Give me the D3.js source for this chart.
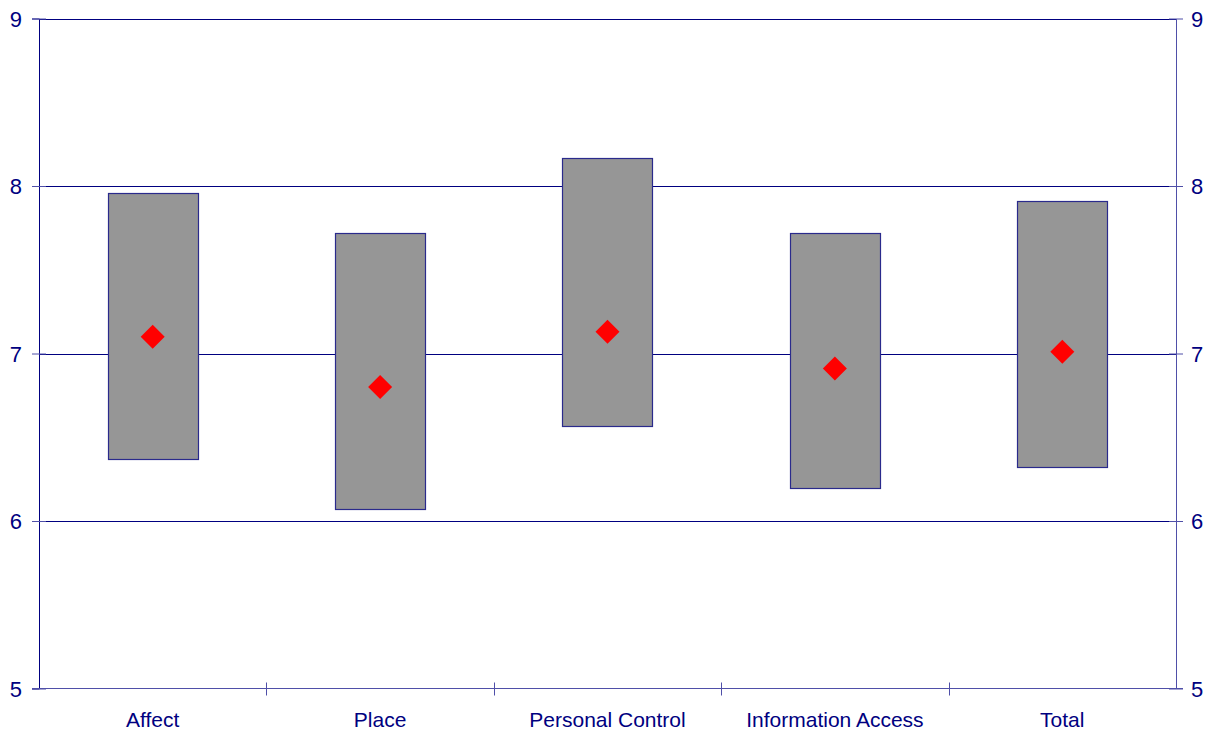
<!DOCTYPE html>
<html>
<head>
<meta charset="utf-8">
<script src="https://cdn.jsdelivr.net/npm/d3@7"></script>
<style>
  html, body { margin: 0; padding: 0; background: #fff; }
  svg { display: block; }
  text { font-family: "Liberation Sans", Arial, sans-serif; fill: #000080; }
</style>
</head>
<body>
<svg id="chart" width="1211" height="732"></svg>
<script>
// Score ranges per dimension: low / high ends of the box and the mean marker
const categories = ["Affect", "Place", "Personal Control", "Information Access", "Total"];
const lowValues  = [6.37, 6.07, 6.57, 6.20, 6.32];
const highValues = [7.96, 7.72, 8.17, 7.72, 7.91];
const meanValues = [7.10, 6.80, 7.13, 6.91, 7.01];
const yTicks = [5, 6, 7, 8, 9];

const svg = d3.select("#chart");
const margin = { left: 39, right: 1176, top: 18.5, bottom: 688.5 };
const navy = "#000080";
const axisBlue = "#4f4fa8";

const x = d3.scaleBand().domain(categories).range([margin.left, margin.right]).paddingInner(0).paddingOuter(0);
const y = d3.scaleLinear().domain([5, 9]).range([margin.bottom, margin.top]);

// Horizontal gridlines
svg.append("g").selectAll("line").data(yTicks.filter(d => d > 5)).join("line")
  .attr("x1", margin.left).attr("x2", margin.right + 1)
  .attr("y1", d => Math.round(y(d)) + 0.5).attr("y2", d => Math.round(y(d)) + 0.5)
  .attr("stroke", navy).attr("stroke-width", 1);

// Left axis
const leftAxis = d3.axisLeft(y).tickValues(yTicks).tickSize(7).tickPadding(10).tickFormat(d3.format("d"));
const gL = svg.append("g").attr("transform", `translate(${margin.left},0)`).call(leftAxis);
gL.select(".domain").attr("stroke", navy);
gL.selectAll(".tick line").attr("stroke", axisBlue).attr("x2", -7).attr("x1", 7);
gL.selectAll(".tick text").style("font-size", "22px").attr("fill", navy).attr("dy", "0.36em");

// Right axis
const rightAxis = d3.axisRight(y).tickValues(yTicks).tickSizeInner(7).tickSizeOuter(0).tickPadding(8).tickFormat(d3.format("d"));
const gR = svg.append("g").attr("transform", `translate(${margin.right},0)`).call(rightAxis);
gR.select(".domain").attr("stroke", axisBlue);
gR.selectAll(".tick line").attr("x1", -7).attr("stroke", axisBlue);
gR.selectAll(".tick text").style("font-size", "22px").attr("fill", navy).attr("dy", "0.36em");

// Bottom axis with ticks at category boundaries
svg.append("line")
  .attr("x1", margin.left - 7).attr("x2", margin.right + 7)
  .attr("y1", margin.bottom).attr("y2", margin.bottom)
  .attr("stroke", axisBlue);
const boundaries = categories.slice(1).map(c => x(c));
svg.append("g").selectAll("line").data(boundaries).join("line")
  .attr("x1", d => Math.round(d) + 0.5).attr("x2", d => Math.round(d) + 0.5)
  .attr("y1", margin.bottom - 6).attr("y2", margin.bottom + 7)
  .attr("stroke", axisBlue);
svg.append("g").selectAll("text").data(categories).join("text")
  .attr("x", d => x(d) + x.bandwidth() / 2)
  .attr("y", 727)
  .attr("text-anchor", "middle")
  .style("font-size", "21px")
  .text(d => d);

// Range boxes
const boxWidth = x.bandwidth() * 0.396;
svg.append("g").selectAll("rect").data(categories).join("rect")
  .attr("x", d => Math.round(x(d) + x.bandwidth() / 2 - boxWidth / 2) + 0.5)
  .attr("width", Math.round(boxWidth))
  .attr("y", (d, i) => Math.round(y(highValues[i])) + 0.5)
  .attr("height", (d, i) => Math.round(y(lowValues[i])) - Math.round(y(highValues[i])))
  .attr("fill", "#969696")
  .attr("stroke", "#2a2a8c")
  .attr("stroke-width", 1.2);

// Mean markers
const half = 12;
svg.append("g").selectAll("path").data(categories).join("path")
  .attr("transform", (d, i) => `translate(${x(d) + x.bandwidth() / 2},${y(meanValues[i])})`)
  .attr("d", `M0,${-half}L${half},0L0,${half}L${-half},0Z`)
  .attr("fill", "#ff0000");
</script>
</body>
</html>
